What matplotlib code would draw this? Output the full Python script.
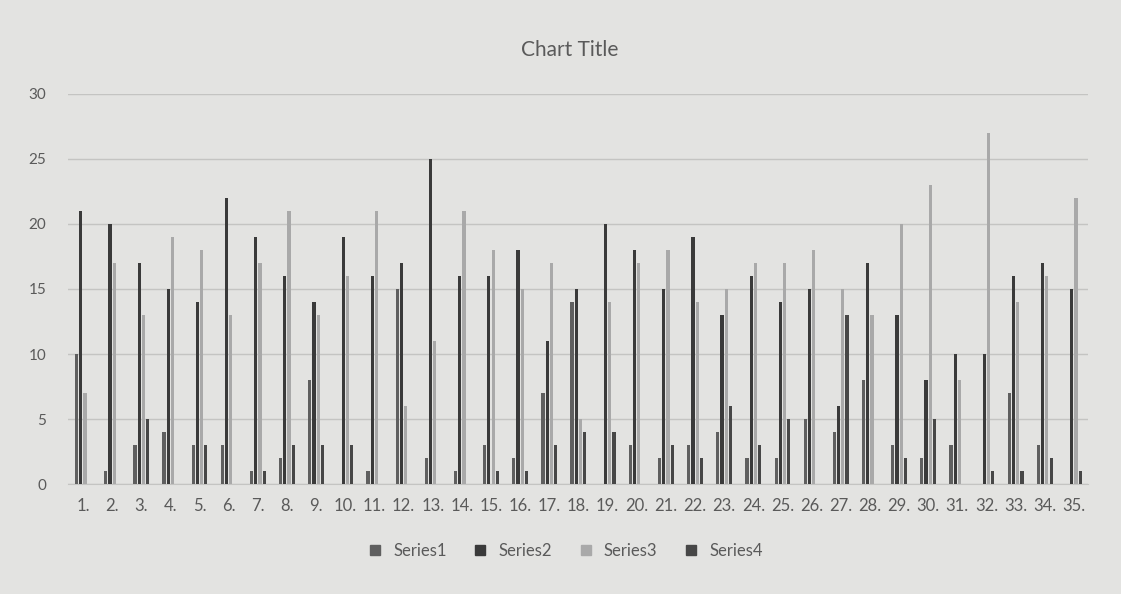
import matplotlib.pyplot as plt
import numpy as np

# Values (categories 1..35)
categories = [f'{i}.' for i in range(1, 36)]
series1 = [10, 1, 3, 4, 3, 3, 1, 2, 8, 0, 1, 15, 2, 1, 3, 2, 7, 14, 0, 3,
           2, 3, 4, 2, 2, 5, 4, 8, 3, 2, 3, 0, 7, 3, 0]
series2 = [21, 20, 17, 15, 14, 22, 19, 16, 14, 19, 16, 17, 25, 16, 16, 18, 11, 15, 20, 18,
           15, 19, 13, 16, 14, 15, 6, 17, 13, 8, 10, 10, 16, 17, 15]
series3 = [7, 17, 13, 19, 18, 13, 17, 21, 13, 16, 21, 6, 11, 21, 18, 15, 17, 5, 14, 17,
           18, 14, 15, 17, 17, 18, 15, 13, 20, 23, 8, 27, 14, 16, 22]
series4 = [0, 0, 5, 0, 3, 0, 1, 3, 3, 3, 0, 0, 0, 0, 1, 1, 3, 4, 4, 0,
           3, 2, 6, 3, 5, 0, 13, 0, 2, 5, 0, 1, 1, 2, 1]

series = [series1, series2, series3, series4]
names = ['Series1', 'Series2', 'Series3', 'Series4']
colors = ['#5f5f5f', '#3a3a3a', '#a9a9a9', '#474747']

bg = '#e3e3e1'
text_col = '#5a5a5a'

fig = plt.figure(figsize=(11.21, 5.94), dpi=100, facecolor=bg)
ax = fig.add_axes([0.061, 0.185, 0.910, 0.657], facecolor=bg)

x = np.arange(len(categories))
pitch = 0.145
width = 0.11
for i, (vals, name, c) in enumerate(zip(series, names, colors)):
    ax.bar(x + (i - 1.5) * pitch, vals, width, color=c, label=name, zorder=3)

ax.set_xlim(-0.5, len(categories) - 0.5)
ax.set_ylim(0, 30)
ax.set_yticks(range(0, 31, 5))
ax.grid(axis='y', color='#c4c4c2', linewidth=1.0, zorder=0)
ax.set_xticks(x)
ax.set_xticklabels(categories)
ax.tick_params(length=0, labelcolor=text_col)
ax.tick_params(axis='x', labelsize=12, pad=10)
ax.tick_params(axis='y', labelsize=11, pad=16)
for s in ['top', 'right', 'left']:
    ax.spines[s].set_visible(False)
ax.spines['bottom'].set_color('#c4c4c2')

for lab in ax.get_xticklabels() + ax.get_yticklabels():
    lab.set_family('Lato')

fig.text(0.508, 0.915, 'Chart Title', ha='center', va='center',
         fontsize=15, color=text_col, family='Lato')

handles = [plt.Line2D([], [], marker='s', linestyle='', markersize=7, color=c)
           for c in colors]
leg = fig.legend(handles, names, loc='center', bbox_to_anchor=(0.5, 0.073), ncol=4,
                 frameon=False, handletextpad=0.1, columnspacing=1.0,
                 prop={'family': 'Lato', 'size': 12})
for t in leg.get_texts():
    t.set_color(text_col)

fig.savefig('out.png', dpi=100, facecolor=bg)
